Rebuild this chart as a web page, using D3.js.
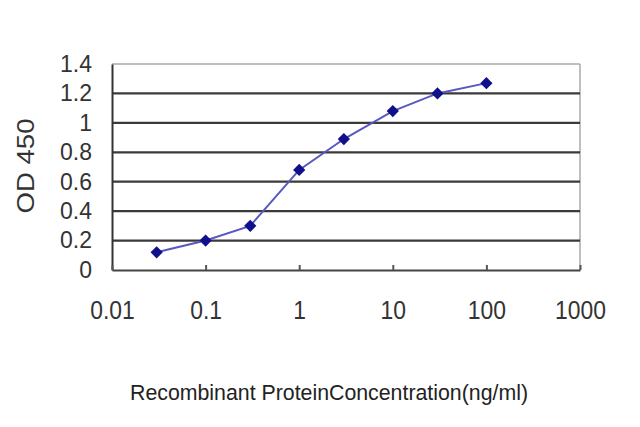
<!DOCTYPE html>
<html><head><meta charset="utf-8">
<script src="https://cdn.jsdelivr.net/npm/d3@7"></script>
<style>body{margin:0;background:#fff}svg{display:block}</style>
</head><body>
<svg id="c" width="640" height="427"></svg>
<script>
const conc = [0.03, 0.1, 0.3, 1, 3, 10, 30, 100];
const od = [0.12, 0.2, 0.3, 0.68, 0.89, 1.08, 1.2, 1.27];
const xTicks = [0.01, 0.1, 1, 10, 100, 1000];
const xTickLabels = ["0.01", "0.1", "1", "10", "100", "1000"];
const yTicks = [0, 0.2, 0.4, 0.6, 0.8, 1, 1.2, 1.4];
const yTickLabels = ["0", "0.2", "0.4", "0.6", "0.8", "1", "1.2", "1.4"];

const svg = d3.select("#c");
const L = 112, R = 580, T = 64, B = 270;
const x = d3.scaleLog().domain([0.01, 1000]).range([L, R]);
const y = d3.scaleLinear().domain([0, 1.4]).range([B, T]);
const font = "'Liberation Sans',Arial,sans-serif";

// frame top/right
svg.append("line").attr("x1", L).attr("x2", R).attr("y1", T).attr("y2", T).attr("stroke", "#aaa").attr("stroke-width", 1.5);
svg.append("line").attr("x1", R).attr("x2", R).attr("y1", T).attr("y2", B).attr("stroke", "#aaa").attr("stroke-width", 1.5);

// gridlines
svg.append("g").selectAll("line").data(yTicks.filter(v => v > 0 && v < 1.4)).join("line")
  .attr("x1", L).attr("x2", R).attr("y1", d => y(d)).attr("y2", d => y(d))
  .attr("stroke", "#3a3a3a").attr("stroke-width", 2.2);

// y axis
const ya = d3.axisLeft(y).tickValues(yTicks).tickFormat((d, i) => yTickLabels[i]).tickSize(0).tickPadding(20);
const gy = svg.append("g").attr("transform", `translate(${L},0)`).call(ya);
gy.select(".domain").attr("stroke", "#333").attr("stroke-width", 2);
gy.selectAll("text").attr("font-family", font).attr("font-size", 23).attr("fill", "#333");

// x axis
const xa = d3.axisBottom(x).tickValues(xTicks).tickFormat((d, i) => xTickLabels[i]).tickSizeInner(-5).tickSizeOuter(0).tickPadding(31);
const gx = svg.append("g").attr("transform", `translate(0,${B})`).call(xa);
gx.select(".domain").attr("stroke", "#444").attr("stroke-width", 2);
gx.selectAll(".tick line").attr("stroke", "#555").attr("stroke-width", 2);
gx.selectAll("text").attr("font-family", font).attr("font-size", 26).attr("fill", "#333")
  .attr("transform", "scale(0.88,1)");

// line
const line = d3.line().x((d, i) => x(conc[i])).y(d => y(d));
svg.append("path").datum(od).attr("d", line).attr("fill", "none").attr("stroke", "#5858c0").attr("stroke-width", 2);

// markers
svg.append("g").selectAll("path").data(od).join("path")
  .attr("transform", (d, i) => `translate(${x(conc[i])},${y(d)}) rotate(45)`)
  .attr("d", d3.symbol().type(d3.symbolSquare).size(75))
  .attr("fill", "#10108a");

// y title
svg.append("text").attr("transform", "translate(34,166) rotate(-90)").attr("text-anchor", "middle")
  .attr("font-family", font).attr("font-size", 23).attr("fill", "#333")
  .attr("textLength", 95).attr("lengthAdjust", "spacingAndGlyphs").text("OD 450");

// x title
svg.append("text").attr("x", 329).attr("y", 400).attr("text-anchor", "middle")
  .attr("font-family", font).attr("font-size", 22).attr("fill", "#222")
  .attr("textLength", 398).attr("lengthAdjust", "spacingAndGlyphs")
  .text("Recombinant ProteinConcentration(ng/ml)");
</script>
</body></html>
